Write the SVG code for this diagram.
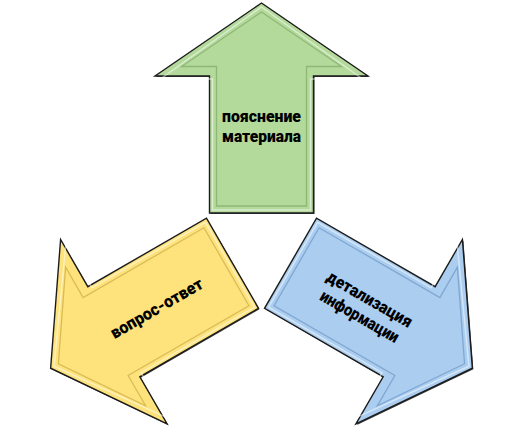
<svg xmlns="http://www.w3.org/2000/svg" width="532" height="448" viewBox="0 0 532 448">
<style>
.shadow{fill:#202020;fill-opacity:0.85}
.outer{stroke:#1c1c1c;stroke-width:1.4;stroke-linejoin:miter}
.hl{fill:none;stroke:#ffffff;stroke-opacity:0.5;stroke-width:1.5}
.inner{fill:none;stroke-width:1.3}
.g .outer{fill:#b3d99b}.g .inner{stroke:#8fb877}
.y .outer{fill:#fee27b}.y .inner{stroke:#d9bc55}
.b .outer{fill:#aacdf0}.b .inner{stroke:#7fa7d0}
.lbl{font-family:Roboto,"Noto Sans","DejaVu Sans",sans-serif;font-weight:900;font-size:17px;fill:#000;text-anchor:middle}
</style>
<defs>
<polygon id="arrowOuter" points="0,-243.5 106.5,-170.5 52,-170.5 52,-33.5 -52,-33.5 -52,-170.5 -106.5,-170.5"/>
<polygon id="arrowHl" points="0,-239.5 101,-167.5 49,-167.5 49,-36.5 -49,-36.5 -49,-167.5 -101,-167.5"/>
<polygon id="arrowInner" points="0,-234.5 80,-180 45,-180 45,-40.5 -45,-40.5 -45,-180 -80,-180"/>
</defs>
<g id="node-green" class="g">
<g transform="translate(262.5,247.5)"><use href="#arrowOuter" class="shadow"/></g>
<g transform="translate(261.5,246.5)">
<use href="#arrowOuter" class="outer"/>
<use href="#arrowHl" class="hl"/>
<use href="#arrowInner" class="inner"/>
<text class="lbl" x="0" y="-124.5" textLength="79" lengthAdjust="spacingAndGlyphs">пояснение</text>
<text class="lbl" x="0" y="-104.5" textLength="79" lengthAdjust="spacingAndGlyphs">материала</text>
</g>
</g>
<g id="node-yellow" class="y">
<g transform="translate(262.5,247.5) rotate(-120)"><use href="#arrowOuter" class="shadow"/></g>
<g transform="translate(261.5,246.5) rotate(-120)">
<use href="#arrowOuter" class="outer"/>
<use href="#arrowHl" class="hl"/>
<use href="#arrowInner" class="inner"/>
</g>
<g transform="translate(156.5,308) rotate(-30)">
<text class="lbl" x="0" y="6" textLength="104" lengthAdjust="spacingAndGlyphs">вопрос-ответ</text>
</g>
</g>
<g id="node-blue" class="b">
<g transform="translate(262.5,247.5) rotate(120)"><use href="#arrowOuter" class="shadow"/></g>
<g transform="translate(261.5,246.5) rotate(120)">
<use href="#arrowOuter" class="outer"/>
<use href="#arrowHl" class="hl"/>
<use href="#arrowInner" class="inner"/>
</g>
<g transform="translate(364.5,308) rotate(30)">
<text class="lbl" x="0" y="-4.5" textLength="96" lengthAdjust="spacingAndGlyphs">детализация</text>
<text class="lbl" x="0" y="15.5" textLength="88" lengthAdjust="spacingAndGlyphs">информации</text>
</g>
</g>
<g id="connectors"/>
</svg>
